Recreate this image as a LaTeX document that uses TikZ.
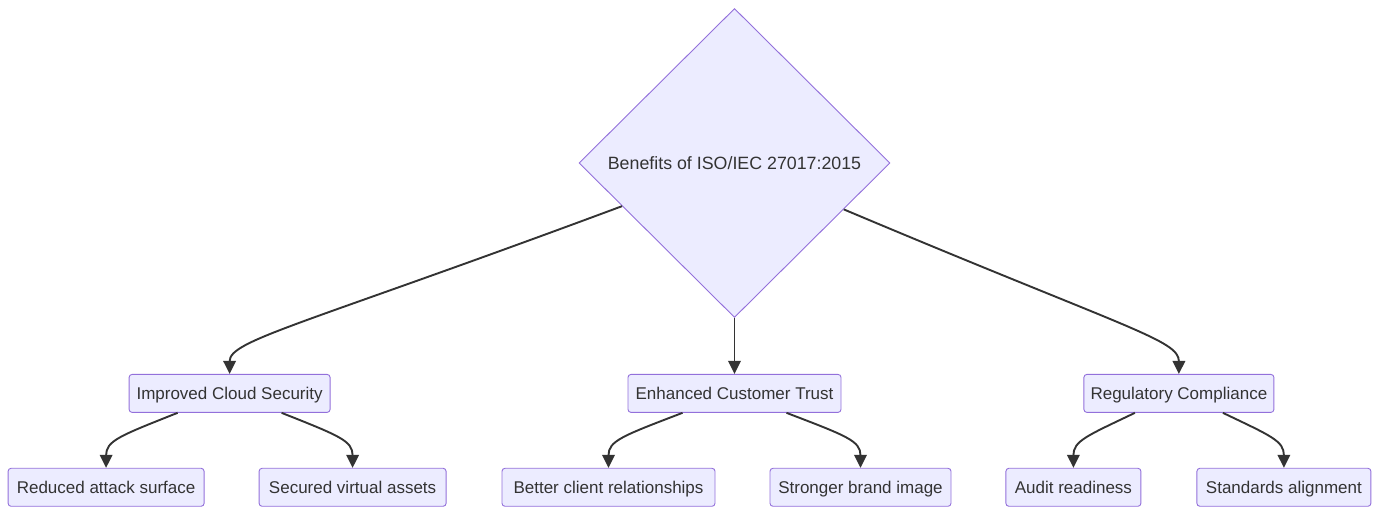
\documentclass[tikz,border=0pt]{standalone}
\usepackage{fontspec}
\setmainfont{Liberation Sans}
\usetikzlibrary{shapes.geometric, arrows.meta, positioning}
\definecolor{nodefill}{HTML}{ECECFF}
\definecolor{nodeline}{HTML}{9370DB}
\definecolor{edgegray}{HTML}{333333}

\begin{document}
\begin{tikzpicture}[
    x=1pt, y=1pt,
    box/.style={rectangle, draw=nodeline, fill=nodefill, rounded corners=3pt, line width=0.9pt, minimum height=38pt, minimum width=#1, inner xsep=6pt, text height=14.5pt, text depth=3pt, text=edgegray, font=\fontsize{17}{20}\selectfont},
    box/.default=150pt,
    rhomb/.style={diamond, aspect=1, draw=nodeline, fill=nodefill, line width=0.9pt, minimum width=311pt, minimum height=309pt, inner sep=0pt, text=edgegray, font=\fontsize{17.8}{20}\selectfont},
    arrow/.style={-{Triangle[length=13pt, width=12.5pt]}, line width=1.9pt, draw=edgegray}
]
\useasboundingbox (0,0) rectangle (1379,516);

% Root
\node[rhomb] (root) at (734.5,353) {Benefits of ISO/IEC 27017:2015};

% Benefit areas
\node[box=213pt, below=56pt of root] (trust) {Enhanced Customer Trust};
\node[box=201pt, left=297pt of trust] (security) {Improved Cloud Security};
\node[box=190pt, right=242pt of trust] (compliance) {Regulatory Compliance};

% Outcomes
\node[box=196pt, below=55pt of security, xshift=-123.5pt] (surface) {Reduced attack surface};
\node[box=187pt, below=55pt of security, xshift=123pt] (assets) {Secured virtual assets};
\node[box=213pt, below=55pt of trust, xshift=-126pt] (clients) {Better client relationships};
\node[box=181pt, below=55pt of trust, xshift=126pt] (brand) {Stronger brand image};
\node[box=135pt, below=55pt of compliance, xshift=-105.5pt] (audit) {Audit readiness};
\node[box=174pt, below=55pt of compliance, xshift=105pt] (standards) {Standards alignment};

% Arrows from root
\draw[arrow] (root.201) .. controls (300,190) and (security.north |- 0,176) .. (security.north);
\draw[arrow] (root.south) -- (trust.north);
\draw[arrow] (root.-23) .. controls (1130,186) and (compliance.north |- 0,176) .. (compliance.north);

% Arrows to outcomes
\draw[arrow] ([xshift=-52pt]security.south) .. controls ([xshift=-110pt,yshift=-23pt]security.south) and ([yshift=27pt]surface.north) .. (surface.north);
\draw[arrow] ([xshift=52pt]security.south) .. controls ([xshift=110pt,yshift=-23pt]security.south) and ([yshift=27pt]assets.north) .. (assets.north);
\draw[arrow] ([xshift=-52pt]trust.south) .. controls ([xshift=-112pt,yshift=-23pt]trust.south) and ([yshift=27pt]clients.north) .. (clients.north);
\draw[arrow] ([xshift=52pt]trust.south) .. controls ([xshift=112pt,yshift=-23pt]trust.south) and ([yshift=27pt]brand.north) .. (brand.north);
\draw[arrow] ([xshift=-44pt]compliance.south) .. controls ([xshift=-92pt,yshift=-23pt]compliance.south) and ([yshift=27pt]audit.north) .. (audit.north);
\draw[arrow] ([xshift=44pt]compliance.south) .. controls ([xshift=92pt,yshift=-23pt]compliance.south) and ([yshift=27pt]standards.north) .. (standards.north);

\end{tikzpicture}
\end{document}
